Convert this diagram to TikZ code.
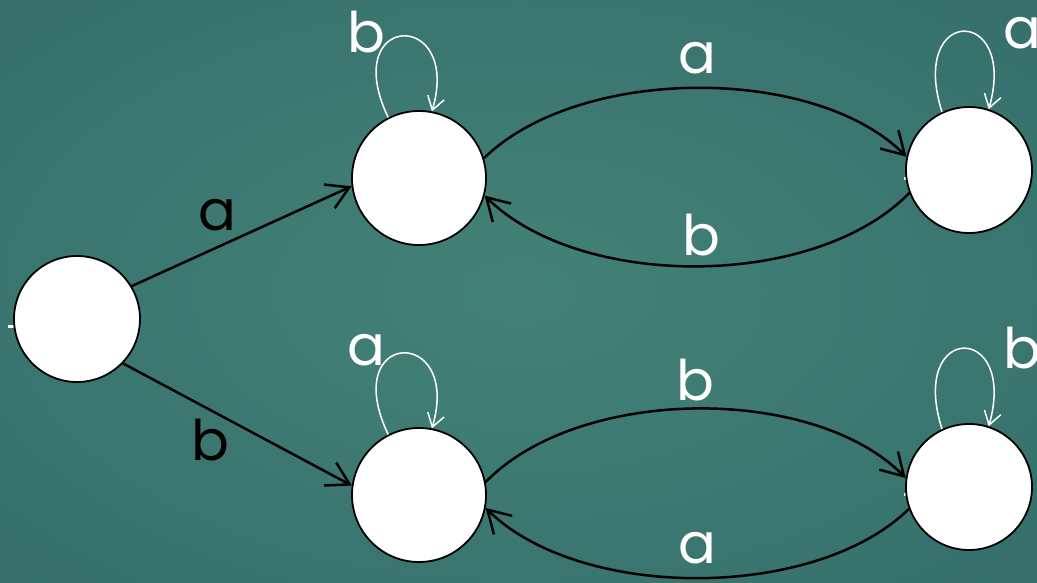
\documentclass[tikz,border=0pt]{standalone}
\usepackage{fontspec}
\setmainfont{Poppins}
\usetikzlibrary{arrows.meta}
\definecolor{bgin}{HTML}{438277}
\definecolor{bgmid}{HTML}{306767}
\definecolor{bgout}{HTML}{26565B}
\pgfdeclareradialshading{bgshade}{\pgfpoint{0bp}{0bp}}{color(0bp)=(bgin); color(50bp)=(bgmid); color(72bp)=(bgout)}
\begin{document}
\begin{tikzpicture}[x=1pt,y=-1pt,
  state/.style={circle,draw=black,fill=white,line width=1.8pt,inner sep=0pt},
  big/.style={state,minimum size=134pt},
  small/.style={state,minimum size=126pt},
  edge/.style={line width=2.5pt,black,-{Straight Barb[length=22pt,width=26pt,line width=2.5pt]}},
  loop/.style={line width=1.5pt,white,-{Straight Barb[length=13pt,width=17pt,line width=1.5pt]}},
  lab/.style={inner sep=0pt,font=\fontsize{56}{60}\selectfont},
  wlab/.style={lab,text=white},
  blab/.style={lab,text=black},
  tick/.style={fill=white,draw=none}
]
\useasboundingbox (0,0) rectangle (1037,583);
\shade[shading=bgshade] (0,0) rectangle (1037,583);
% small white ticks
\fill[tick] (8,325) rectangle (16,328);
\fill[tick] (904,177) rectangle (910,180);
\fill[tick] (904,493) rectangle (910,496);
% states
\node[small] (s) at (77,319) {};
\node[big] (p) at (419,178) {};
\node[big] (q) at (419,495) {};
\node[small] (r) at (969,170) {};
\node[small] (t) at (969,487) {};
% straight edges
\draw[edge] (s.31) -- (p.187);
\draw[edge] (s.-44) -- (q.172);
% curved edges
\draw[edge] (p.17) .. controls (580,65) and (815,65) .. (r.168);
\draw[edge] (r.201) .. controls (815,290) and (580,290) .. (p.-15);
\draw[edge] (q.11) .. controls (580,385) and (815,385) .. (t.172);
\draw[edge] (t.200) .. controls (815,601) and (580,601) .. (q.-11);
% loops
\draw[loop] (p.117) .. controls (338,12) and (462,8) .. (p.79);
\draw[loop] (q.117) .. controls (338,329) and (462,325) .. (q.79);
\draw[loop] (r.115) .. controls (908,5) and (1018,5) .. (r.72);
\draw[loop] (t.115) .. controls (908,322) and (1018,322) .. (t.72);
% labels
\node[blab] (la1) at (217,215) {a};
\node[blab] (lb1) at (210,440) {b};
\node[wlab] (la2) at (697,58) {a};
\node[wlab] (lb2) at (701,235) {b};
\node[wlab] (lb3) at (695,380) {b};
\node[wlab] (la3) at (697,548) {a};
\node[wlab] (lb4) at (366,32) {b};
\node[wlab] (la4) at (1022,33) {a};
\node[wlab] (la5) at (366,350) {a};
\node[wlab] (lb5) at (1022,348) {b};
\end{tikzpicture}
\end{document}
